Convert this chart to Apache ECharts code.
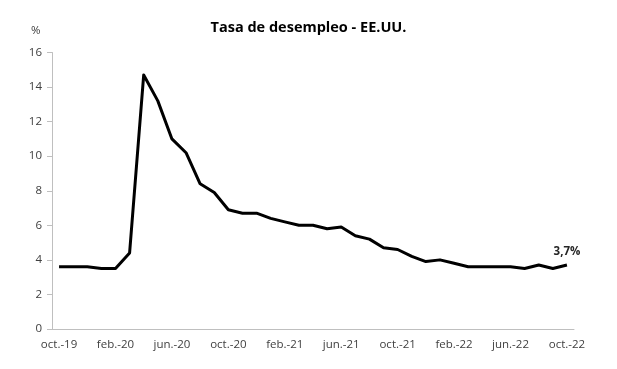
<!DOCTYPE html>
<html>
<head>
<meta charset="utf-8">
<script src="https://cdn.jsdelivr.net/npm/echarts@6/dist/echarts.min.js"></script>
<style>html,body{margin:0;padding:0;background:#fff}#c{width:617px;height:369px}</style>
</head>
<body>
<div id="c"></div>
<script>
const categories = ['oct.-19','nov.-19','dic.-19','ene.-20','feb.-20','mar.-20','abr.-20','may.-20','jun.-20','jul.-20','ago.-20','sep.-20','oct.-20','nov.-20','dic.-20','ene.-21','feb.-21','mar.-21','abr.-21','may.-21','jun.-21','jul.-21','ago.-21','sep.-21','oct.-21','nov.-21','dic.-21','ene.-22','feb.-22','mar.-22','abr.-22','may.-22','jun.-22','jul.-22','ago.-22','sep.-22','oct.-22'];
const unemployment = [3.6,3.6,3.6,3.5,3.5,4.4,14.7,13.2,11.0,10.2,8.4,7.9,6.9,6.7,6.7,6.4,6.2,6.0,6.0,5.8,5.9,5.4,5.2,4.7,4.6,4.2,3.9,4.0,3.8,3.6,3.6,3.6,3.6,3.5,3.7,3.5,3.7];
const yTicks = [0,2,4,6,8,10,12,14,16];
const lastLabel = '3,7%';

const FONT = 'Open Sans';
const lastIdx = unemployment.length - 1;

const chart = echarts.init(document.getElementById('c'));
chart.setOption({
  animation: false,
  backgroundColor: '#fff',
  title: {
    text: 'Tasa de desempleo - EE.UU.',
    left: 'center', top: 15,
    textStyle: {fontFamily: FONT, fontWeight: 'bold', fontSize: 14.5, color: '#000'}
  },
  graphic: [{type: 'text', left: 31, top: 25, style: {text: '%', fontFamily: FONT, fontSize: 11.5, fill: '#404040'}}],
  grid: {left: 52, right: 43, top: 52.5, bottom: 40, containLabel: false},
  xAxis: {
    type: 'category', data: categories, boundaryGap: true,
    axisLine: {lineStyle: {color: '#bfbfbf', width: 1}},
    axisTick: {interval: 3, alignWithLabel: false, length: 5, lineStyle: {color: '#bfbfbf'}},
    axisLabel: {interval: 3, margin: 10, fontFamily: FONT, fontSize: 11.5, color: '#404040'}
  },
  yAxis: {
    type: 'value', min: yTicks[0], max: yTicks[yTicks.length - 1], interval: 2,
    axisLine: {show: true, lineStyle: {color: '#bfbfbf', width: 1}},
    axisTick: {show: true, length: 5, lineStyle: {color: '#bfbfbf'}},
    splitLine: {show: false},
    axisLabel: {margin: 10, fontFamily: FONT, fontSize: 11.5, color: '#404040'}
  },
  series: [{
    type: 'line', data: unemployment, symbol: 'none', smooth: false,
    lineStyle: {color: '#000', width: 3, join: 'round'},
    markPoint: {
      symbol: 'circle', symbolSize: 0,
      data: [{coord: [lastIdx, unemployment[lastIdx]]}],
      label: {show: true, position: 'top', distance: 7, formatter: lastLabel,
        fontFamily: FONT, fontWeight: 'bold', fontSize: 11.5, color: '#262626'}
    }
  }]
});
</script>
</body>
</html>
